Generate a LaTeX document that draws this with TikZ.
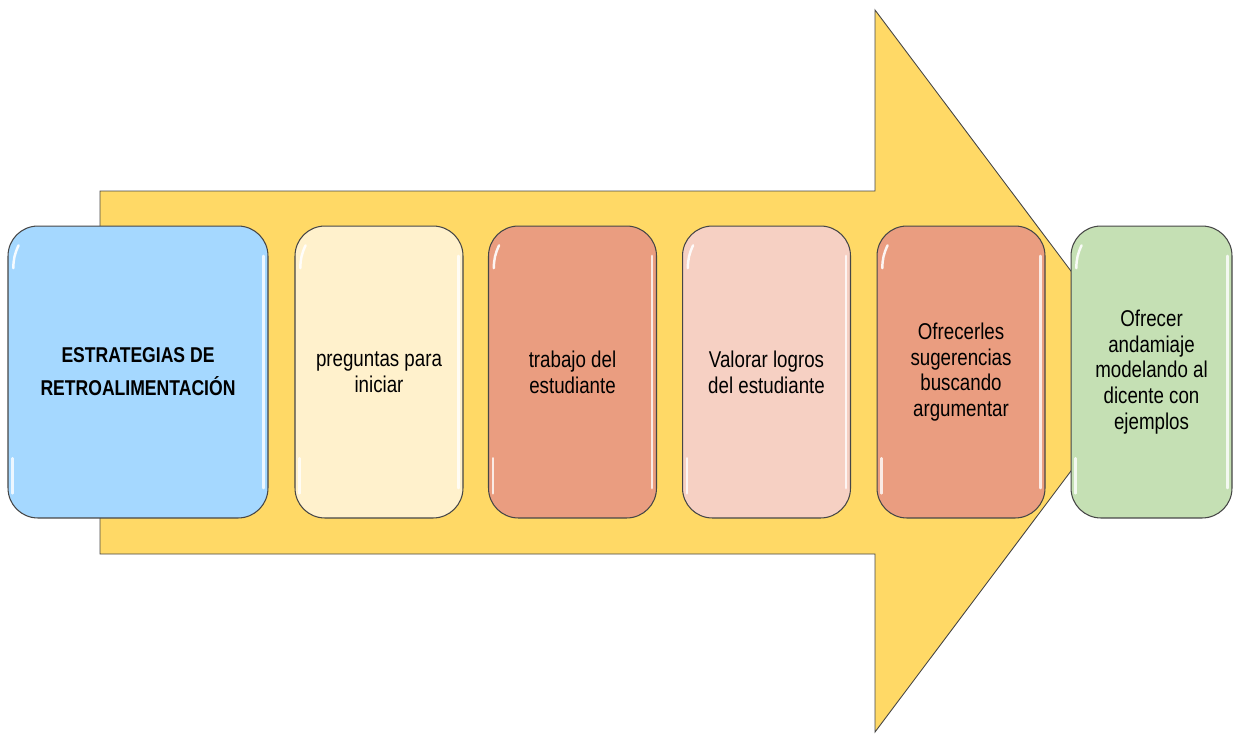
\documentclass[tikz,border=0pt]{standalone}
\usepackage{fontspec}
\setmainfont{Liberation Sans}[FakeStretch=0.82]
\usetikzlibrary{positioning}

\definecolor{flecha}{RGB}{255,217,102}
\definecolor{borde}{RGB}{70,70,70}
\definecolor{azul}{RGB}{165,216,255}
\definecolor{crema}{RGB}{255,241,204}
\definecolor{salmon}{RGB}{234,157,128}
\definecolor{rosa}{RGB}{246,208,195}
\definecolor{verde}{RGB}{197,224,180}

\tikzset{
  brillo/.style={path picture={
      \draw[white, line width=1.4pt, line cap=round, opacity=0.8]
        ([xshift=-2.6pt, yshift=-17pt]path picture bounding box.north east) --
        ([xshift=-2.6pt, yshift=17pt]path picture bounding box.south east);
      \draw[white, line width=1.4pt, line cap=round, opacity=0.9]
        ([xshift=3pt, yshift=-24pt]path picture bounding box.north west) to[bend left=12]
        ([xshift=6pt, yshift=-11pt]path picture bounding box.north west);
      \draw[white, line width=1.4pt, line cap=round, opacity=0.8]
        ([xshift=2.6pt, yshift=14pt]path picture bounding box.south west) --
        ([xshift=2.6pt, yshift=34pt]path picture bounding box.south west);
  }},
  caja/.style={rectangle, rounded corners=17pt, draw=borde, line width=0.6pt,
    minimum height=5.84cm, minimum width=3.36cm, inner sep=0pt, align=center,
    font=\fontsize{13}{14.7}\selectfont, brillo}
}

\begin{document}
\begin{tikzpicture}[x=0.02cm, y=-0.02cm]
    \useasboundingbox (0, 0) rectangle (1233, 734);

    % flecha de fondo
    \draw[fill=flecha, draw=borde, line width=0.5pt]
        (100, 191) -- (875, 191) -- (875, 10) -- (1146, 371)
        -- (875, 732) -- (875, 554) -- (100, 554) -- cycle;

    \node[caja, fill=azul, minimum width=5.2cm, font=\bfseries\fontsize{12.2}{18.7}\selectfont] (1) at (138, 372) {ESTRATEGIAS DE\\RETROALIMENTACIÓN};
    \node[caja, fill=crema] (2) at (379, 372) {preguntas para\\iniciar};
    \node[caja, fill=salmon] (3) at (572.5, 372) {trabajo del\\estudiante};
    \node[caja, fill=rosa] (4) at (766.5, 372) {Valorar logros\\del estudiante};
    \node[caja, fill=salmon] (5) at (961, 372) {Ofrecerles\\sugerencias\\buscando\\argumentar};
    \node[caja, fill=verde, minimum width=3.22cm] (6) at (1151.5, 372) {Ofrecer\\andamiaje\\modelando al\\dicente con\\ejemplos};
\end{tikzpicture}
\end{document}
